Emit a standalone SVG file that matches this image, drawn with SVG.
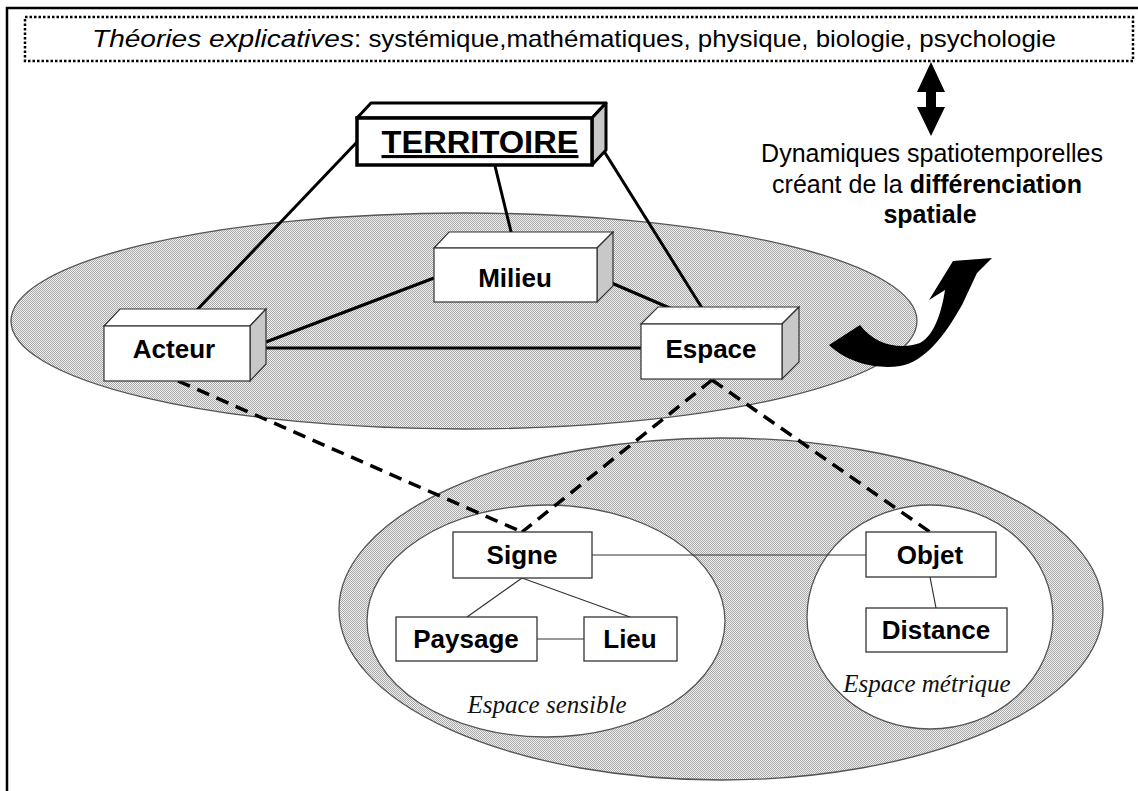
<svg xmlns="http://www.w3.org/2000/svg" width="1138" height="791" viewBox="0 0 1138 791">
<defs>
<pattern id="dots" width="2" height="2" patternUnits="userSpaceOnUse">
<rect width="2" height="2" fill="#f0f0f0"/>
<rect width="1" height="1" fill="#a8a8a8"/>
<rect x="1" y="1" width="1" height="1" fill="#a8a8a8"/>
</pattern>
</defs>
<style>
.sans{font-family:"Liberation Sans",Arial,sans-serif;fill:#000}
.lbl{font-family:"Liberation Sans",Arial,sans-serif;font-weight:bold;font-size:26px;text-anchor:middle;fill:#000}
.cap{font-family:"Liberation Serif","Times New Roman",serif;font-style:italic;font-size:25px;text-anchor:middle;fill:#111}
.front{fill:#fff;stroke:#333;stroke-width:1.2}
.top{fill:#fff;stroke:#333;stroke-width:1.2}
.side{fill:#c8c8c8;stroke:#333;stroke-width:1.2}
.flat{fill:#fff;stroke:#333;stroke-width:1.3}
.solid{stroke:#000;stroke-width:3;fill:none}
.dash{stroke:#000;stroke-width:3.5;fill:none;stroke-dasharray:13 8}
.thin{stroke:#333;stroke-width:1.2;fill:none}
.shade{fill:url(#dots);stroke:#555;stroke-width:1.3}
</style>
<rect width="1138" height="791" fill="#fff"/>
<path d="M7,791 V8 H1138" fill="none" stroke="#000" stroke-width="2.5"/>

<g id="title">
<rect x="25" y="17" width="1108" height="44" fill="none" stroke="#000" stroke-width="2.5" stroke-dasharray="2.5 2"/>
<text class="sans" x="92" y="47" font-size="24" font-style="italic" textLength="262" lengthAdjust="spacingAndGlyphs">Théories explicatives</text>
<text class="sans" x="354" y="47" font-size="24" textLength="702" lengthAdjust="spacingAndGlyphs">: systémique,mathématiques, physique, biologie, psychologie</text>
</g>

<g id="double-arrow">
<polygon points="931,62 945,92 936,92 936,107 945,107 931,136 917,107 926,107 926,92 917,92" fill="#000"/>
</g>

<g id="dynamiques">
<text class="sans" x="932" y="162" font-size="25" text-anchor="middle">Dynamiques spatiotemporelles</text>
<text class="sans" x="927" y="193" font-size="25" text-anchor="middle">créant de la <tspan font-weight="bold">différenciation</tspan></text>
<text class="sans" x="930" y="223" font-size="25" text-anchor="middle" font-weight="bold">spatiale</text>
</g>

<g id="upper-ellipse">
<ellipse class="shade" cx="464" cy="321" rx="453" ry="108"/>
</g>

<g id="lower-ellipse">
<ellipse class="shade" cx="721" cy="609" rx="382" ry="171"/>
<ellipse cx="546" cy="621" rx="179" ry="116" fill="#fff" stroke="#555" stroke-width="1.3"/>
<ellipse cx="930" cy="617" rx="123" ry="112" fill="#fff" stroke="#555" stroke-width="1.3"/>
<text class="cap" x="547" y="713">Espace sensible</text>
<text class="cap" x="927" y="692">Espace métrique</text>
</g>

<g id="curved-arrow">
<path d="M829,345 C850,365 880,369 900,366 C925,362 945,335 962,305 L977,273 L992,258 L953,261 L929,300 L945,290 C942,310 935,335 920,343 C900,350 875,345 860,325 Z" fill="#000"/>
</g>

<g id="connectors">
<line class="solid" x1="357" y1="142" x2="195" y2="312"/>
<line class="solid" x1="495" y1="166" x2="515" y2="248"/>
<line class="solid" x1="597" y1="140" x2="712" y2="324"/>
<line class="solid" x1="434" y1="278" x2="266" y2="342"/>
<line class="solid" x1="600" y1="278" x2="672" y2="309"/>
<line class="solid" x1="266" y1="348" x2="641" y2="348"/>
<line class="dash" x1="178" y1="381" x2="522" y2="532"/>
<line class="dash" x1="712" y1="380" x2="522" y2="532"/>
<line class="dash" x1="712" y1="380" x2="930" y2="532"/>
<line class="thin" x1="592" y1="555" x2="866" y2="555"/>
<line class="thin" x1="522" y1="578" x2="467" y2="617"/>
<line class="thin" x1="522" y1="578" x2="630" y2="617"/>
<line class="thin" x1="537" y1="639" x2="584" y2="639"/>
<line class="thin" x1="930" y1="577" x2="936" y2="608"/>
</g>

<g id="territoire">
<polygon points="357,118 371,103 606,103 592,118" fill="#fff" stroke="#000" stroke-width="3" stroke-linejoin="round"/>
<polygon points="592,118 606,103 606,150 592,165" fill="#c8c8c8" stroke="#000" stroke-width="3" stroke-linejoin="round"/>
<rect x="357" y="118" width="235" height="47" fill="#fff" stroke="#000" stroke-width="3.5"/>
<text class="sans" x="480" y="153" font-size="31" font-weight="bold" text-anchor="middle" text-decoration="underline" textLength="197" lengthAdjust="spacingAndGlyphs">TERRITOIRE</text>
</g>

<g id="milieu">
<polygon class="top" points="434,248 449,232 613,232 597,248"/>
<polygon class="side" points="597,248 613,232 613,286 597,302"/>
<rect class="front" x="434" y="248" width="163" height="54"/>
<text class="lbl" x="515" y="287">Milieu</text>
</g>

<g id="acteur">
<polygon class="top" points="104,326 120,309 266,309 250,326"/>
<polygon class="side" points="250,326 266,309 266,364 250,381"/>
<rect class="front" x="104" y="326" width="146" height="55"/>
<text class="lbl" x="174" y="358">Acteur</text>
</g>

<g id="espace">
<polygon class="top" points="641,324 658,307 799,307 782,324"/>
<polygon class="side" points="782,324 799,307 799,362 782,379"/>
<rect class="front" x="641" y="324" width="141" height="55"/>
<text class="lbl" x="711" y="358">Espace</text>
</g>

<g id="signe">
<rect class="flat" x="453" y="532" width="139" height="46"/>
<text class="lbl" x="522" y="564">Signe</text>
</g>
<g id="paysage">
<rect class="flat" x="396" y="617" width="141" height="44"/>
<text class="lbl" x="466" y="648">Paysage</text>
</g>
<g id="lieu">
<rect class="flat" x="584" y="617" width="93" height="44"/>
<text class="lbl" x="630" y="648">Lieu</text>
</g>
<g id="objet">
<rect class="flat" x="866" y="532" width="130" height="45"/>
<text class="lbl" x="930" y="564">Objet</text>
</g>
<g id="distance">
<rect class="flat" x="866" y="608" width="141" height="44"/>
<text class="lbl" x="936" y="639">Distance</text>
</g>
</svg>
